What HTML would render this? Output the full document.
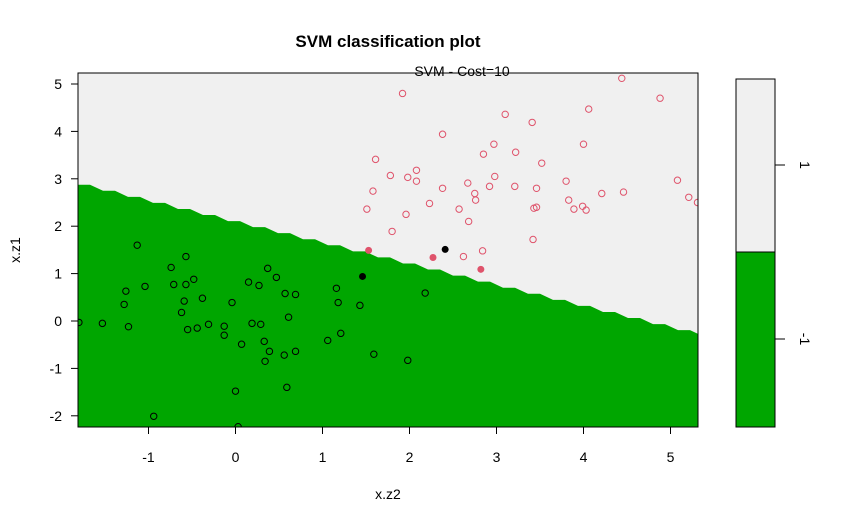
<!DOCTYPE html>
<html><head><meta charset="utf-8"><style>
body{margin:0;background:#fff;}
svg{display:block;font-family:"Liberation Sans",Arial,sans-serif;}
</style></head><body>
<svg id="chart" width="854" height="525" viewBox="0 0 854 525"></svg>
<script>
const xTicks=[-1,0,1,2,3,4,5];
const yTicks=[-2,-1,0,1,2,3,4,5];
const legendLabels=["1","-1"];
const boundaryIntercept=2.07; // y at x=0
const boundarySlope=-0.445;
const class1X=[4.44,1.92,4.88,4.06,3.10,3.41,2.38,4.00,2.97,2.85,3.22,3.52,1.78,1.98,2.08,2.08,2.98,3.80,5.08,2.67,2.92,3.21,3.46,2.38,2.75,4.21,4.46,2.76,3.83,2.23,5.21,5.31,2.57,3.43,3.46,3.89,3.99,4.03,1.96,2.68,1.80,3.42,2.84,2.62,1.61,1.58,1.51];
const class1Y=[5.12,4.80,4.70,4.47,4.36,4.19,3.94,3.73,3.73,3.52,3.56,3.33,3.07,3.03,3.18,2.95,3.05,2.95,2.97,2.91,2.84,2.84,2.80,2.80,2.69,2.69,2.72,2.55,2.55,2.48,2.61,2.50,2.36,2.38,2.40,2.36,2.42,2.34,2.25,2.10,1.89,1.72,1.48,1.36,3.41,2.74,2.36];
const classNegX=[-1.13,-0.57,-0.74,0.37,0.47,-0.48,-0.71,-0.57,0.15,0.27,-1.04,-1.26,1.16,0.57,0.69,-0.38,-0.59,-0.04,1.18,-1.28,1.43,-0.62,0.61,-1.80,-1.53,0.19,0.29,-0.31,-1.23,-0.13,-0.55,-0.44,1.21,-0.13,1.06,0.33,0.07,0.39,0.69,0.56,1.59,0.34,1.98,0.59,0.00,-0.94,0.03,2.18];
const classNegY=[1.60,1.36,1.13,1.11,0.92,0.88,0.77,0.77,0.82,0.75,0.73,0.63,0.69,0.58,0.56,0.48,0.42,0.39,0.39,0.35,0.33,0.18,0.08,-0.03,-0.05,-0.05,-0.07,-0.07,-0.12,-0.11,-0.18,-0.15,-0.26,-0.30,-0.41,-0.43,-0.49,-0.64,-0.64,-0.72,-0.70,-0.85,-0.83,-1.40,-1.48,-2.01,-2.23,0.59];
const sv1X=[1.53,2.27,2.82];
const sv1Y=[1.49,1.34,1.09];
const svNegX=[1.46,2.41];
const svNegY=[0.94,1.51];

const NS="http://www.w3.org/2000/svg";
const svg=document.getElementById('chart');
const L=78,R=698,T=73,B=427;
const X0=235.5,XS=87,Y0=321,YS=47.4;
function sx(v){return X0+v*XS;}
function sy(v){return Y0-v*YS;}
function mk(tag,attrs,parent){const e=document.createElementNS(NS,tag);for(const k in attrs)e.setAttribute(k,attrs[k]);(parent||svg).appendChild(e);return e;}

const defs=mk('defs',{});
const cp=mk('clipPath',{id:'clip'},defs);
mk('rect',{x:L,y:T,width:R-L,height:B-T},cp);

const bg=mk('rect',{x:L,y:T,width:R-L,height:B-T,fill:'#f0f0f0'});



// stepped decision region
let d='M'+L+','+B;
const step=25;
for(let px=L;px<R;px+=step){
  const xv=(px-X0)/XS;
  const yp=sy(boundaryIntercept+boundarySlope*xv);
  const yn=sy(boundaryIntercept+boundarySlope*((px+step-X0)/XS));
  d+=' L'+px+','+yp+' L'+(px+12)+','+yp+' L'+(px+step)+','+yn;
}
d+=' L'+R+','+B+' Z';
const reg=mk('path',{d:d,fill:'#00a600','clip-path':'url(#clip)'});



const g=mk('g',{'clip-path':'url(#clip)'});


for(let i=0;i<class1X.length;i++){
  const c=mk('circle',{cx:sx(class1X[i]),cy:sy(class1Y[i]),r:3.2,fill:'none',stroke:'#df536b','stroke-width':1},g);
  
  
}
for(let i=0;i<classNegX.length;i++){
  const c=mk('circle',{cx:sx(classNegX[i]),cy:sy(classNegY[i]),r:3.2,fill:'none',stroke:'#000','stroke-width':1},g);
  
  
}
for(let i=0;i<sv1X.length;i++){
  const c=mk('circle',{cx:sx(sv1X[i]),cy:sy(sv1Y[i]),r:3.5,fill:'#df536b'},g);
  
  
}
for(let i=0;i<svNegX.length;i++){
  const c=mk('circle',{cx:sx(svNegX[i]),cy:sy(svNegY[i]),r:3.5,fill:'#000'},g);
  
  
}
const box=mk('rect',{x:L,y:T,width:R-L,height:B-T,fill:'none',stroke:'#000','stroke-width':1});



for(const t of xTicks){
  const x=sx(t);
  const tl=mk('line',{x1:x,y1:B,x2:x,y2:434,stroke:'#000'});
  
  
  const tx=mk('text',{x:x,y:462,'text-anchor':'middle','font-size':14,fill:'#000'});
  tx.textContent=t;
  
  
}
for(const t of yTicks){
  const y=sy(t);
  const tl=mk('line',{x1:L,y1:y,x2:71,y2:y,stroke:'#000'});
  
  
  const tx=mk('text',{x:62,y:y+5,'text-anchor':'end','font-size':14,fill:'#000'});
  tx.textContent=t;
  
  
}

// legend bar
const lgBx=736,lgBw=39,lgT=79,lgB=427,lgMid=252;
const lg1=mk('rect',{x:lgBx,y:lgT,width:lgBw,height:lgMid-lgT,fill:'#f0f0f0',stroke:'#000'});


const lg2=mk('rect',{x:lgBx,y:lgMid,width:lgBw,height:lgB-lgMid,fill:'#00a600',stroke:'#000'});


const lgY=[165,339];
legendLabels.forEach((lab,i)=>{
  const tl=mk('line',{x1:775,y1:lgY[i],x2:785,y2:lgY[i],stroke:'#000'});
  
  
  const tx=mk('text',{x:0,y:0,'text-anchor':'middle','font-size':14,fill:'#000',transform:'translate(800,'+lgY[i]+') rotate(90)'});
  tx.textContent=lab;
  
  
});
</script>
<svg width="0" height="0"></svg>
<div style="position:absolute;left:0;top:0;width:854px;height:525px;pointer-events:none;">
<svg width="854" height="525" style="font-family:'Liberation Sans',Arial,sans-serif;">
<text x="388" y="47" text-anchor="middle" font-size="17" font-weight="bold">SVM classification plot</text>
<text x="462" y="76" text-anchor="middle" font-size="14">SVM - Cost=10</text>
<text x="388" y="499" text-anchor="middle" font-size="14">x.z2</text>
<text x="0" y="0" text-anchor="middle" font-size="14" transform="translate(20,250) rotate(-90)">x.z1</text>
</svg></div>
</body></html>
